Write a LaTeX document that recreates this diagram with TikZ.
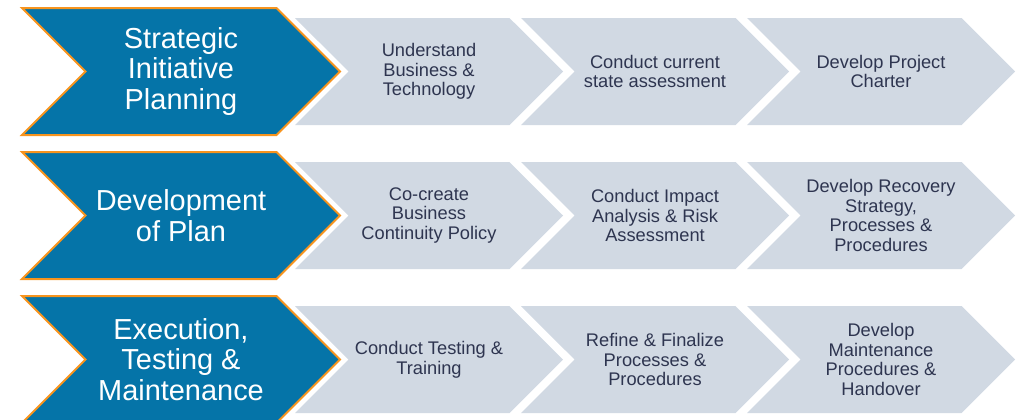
\documentclass[tikz,border=0pt]{standalone}
\usepackage{fontspec}
\setmainfont{Liberation Sans}
\usetikzlibrary{shapes.symbols,positioning}
\definecolor{phaseblue}{RGB}{5,116,168}
\definecolor{phaseorange}{RGB}{247,148,30}
\definecolor{taskgray}{RGB}{209,217,227}
\definecolor{tasktext}{RGB}{46,53,80}
\tikzset{chevron/.style={shape=signal,signal to=east,signal from=west,signal pointer angle=90,align=center,inner sep=0pt,outer sep=0pt},
  phase/.style={chevron,fill=phaseblue,draw=phaseorange,line width=1.5pt,minimum width=238.5pt,minimum height=95.25pt,text=white,font=\fontsize{21.7}{23}\selectfont},
  task/.style={chevron,fill=taskgray,minimum width=201pt,minimum height=80.25pt,text=tasktext,font=\fontsize{13.7}{14.8}\selectfont}}

\begin{document}
\begin{tikzpicture}[x=0.75pt,y=-0.75pt]
                \useasboundingbox (0,0) rectangle (1020,419);
                % strategic initiative planning
                \node[phase] (sip) at (181,71.5) {Strategic\\Initiative\\Planning};
                \node[task] (sip-a) at (429,71.5) {Understand\\Business \&\\Technology};
                \node[task] (sip-b) at (655,71.5) {Conduct current\\state assessment};
                \node[task] (sip-c) at (881,71.5) {Develop Project\\Charter};
                % development of plan
                \node[phase] (dop) at (181,215.5) {Development\\of Plan};
                \node[task] (dop-a) at (429,215.5) {Co-create\\Business\\Continuity Policy};
                \node[task] (dop-b) at (655,215.5) {Conduct Impact\\Analysis \& Risk\\Assessment};
                \node[task] (dop-c) at (881,215.5) {Develop Recovery\\Strategy,\\Processes \&\\Procedures};
                % execution, testing & maintenance
                \node[phase] (etm) at (181,359.5) {Execution,\\Testing \&\\Maintenance};
                \node[task] (etm-a) at (429,359.5) {Conduct Testing \&\\Training};
                \node[task] (etm-b) at (655,359.5) {Refine \& Finalize\\Processes \&\\Procedures};
                \node[task] (etm-c) at (881,359.5) {Develop\\Maintenance\\Procedures \&\\Handover};
            \end{tikzpicture}
\end{document}
